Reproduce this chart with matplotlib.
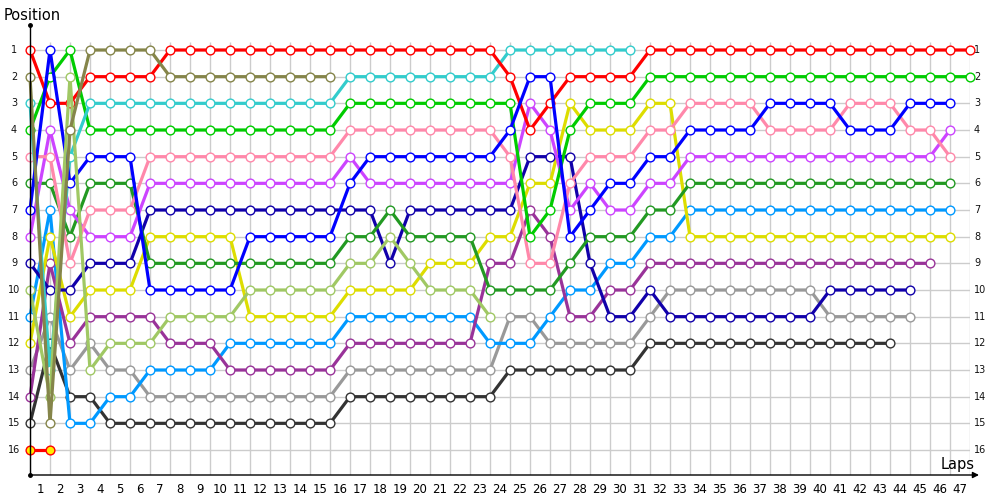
import matplotlib
matplotlib.use("Agg")
import matplotlib.pyplot as plt

# lap chart: position of each car at the end of each lap (lap 0 = grid)
laps = list(range(0, 48))
lap_labels = list(range(1, 48))
positions = list(range(1, 17))

pos_red = [1, 3, 3, 2, 2, 2, 2,
           1, 1, 1, 1, 1, 1, 1, 1, 1, 1, 1, 1, 1, 1, 1, 1, 1,
           2, 4, 3, 2, 2, 2, 2,
           1, 1, 1, 1, 1, 1, 1, 1, 1, 1, 1, 1, 1, 1, 1, 1, 1]
pos_olive = [2, 15, 4, 1, 1, 1, 1, 2, 2, 2, 2, 2, 2, 2, 2, 2]
pos_cyan = [3, 13, 5,
            3, 3, 3, 3, 3, 3, 3, 3, 3, 3, 3, 3, 3,
            2, 2, 2, 2, 2, 2, 2, 2,
            1, 1, 1, 1, 1, 1, 1]
pos_green = [4, 2, 1,
             4, 4, 4, 4, 4, 4, 4, 4, 4, 4, 4, 4, 4,
             3, 3, 3, 3, 3, 3, 3, 3, 3,
             8, 7, 4, 3, 3, 3,
             2, 2, 2, 2, 2, 2, 2, 2, 2, 2, 2, 2, 2, 2, 2, 2, 2]
pos_pink = [5, 5, 9, 7, 7, 7,
            5, 5, 5, 5, 5, 5, 5, 5, 5, 5,
            4, 4, 4, 4, 4, 4, 4, 4,
            5, 9, 9, 6, 5, 5, 5, 4, 4,
            3, 3, 3, 3, 4, 4, 4, 4, 3, 3, 3, 4, 4, 5]
pos_blue = [7, 1, 6, 5, 5, 5,
            10, 10, 10, 10, 10,
            8, 8, 8, 8, 8, 6,
            5, 5, 5, 5, 5, 5, 5,
            4, 2, 2, 8, 7, 6, 6, 5, 5,
            4, 4, 4, 4, 3, 3, 3, 3, 4, 4, 4, 3, 3, 3]
pos_violet = [8, 4, 7, 8, 8, 8,
              6, 6, 6, 6, 6, 6, 6, 6, 6, 6, 5,
              6, 6, 6, 6, 6, 6, 6, 6,
              3, 4, 7, 6, 7, 7, 6, 6,
              5, 5, 5, 5, 5, 5, 5, 5, 5, 5, 5, 5, 5, 4]
pos_dkgreen = [6, 6, 8, 6, 6, 6,
               9, 9, 9, 9, 9, 9, 9, 9, 9, 9,
               8, 8, 7, 8, 8, 8, 8,
               10, 10, 10, 10, 9, 8, 8, 8, 7, 7,
               6, 6, 6, 6, 6, 6, 6, 6, 6, 6, 6, 6, 6, 6]
pos_navy = [9, 10, 10, 9, 9, 9,
            7, 7, 7, 7, 7, 7, 7, 7, 7, 7, 7, 7,
            9, 7, 7, 7, 7, 7, 7,
            5, 5, 5, 9, 11, 11, 10,
            11, 11, 11, 11, 11, 11, 11, 11,
            10, 10, 10, 10, 10]
pos_yellow = [12, 8, 11, 10, 10, 10,
              8, 8, 8, 8, 8,
              11, 11, 11, 11, 11,
              10, 10, 10, 10, 9, 9, 9,
              8, 8, 6, 6, 3, 4, 4, 4, 3, 3,
              8, 8, 8, 8, 8, 8, 8, 8, 8, 8, 8, 8, 8, 8]
pos_ltgreen = [10, 14, 2, 13, 12, 12, 12,
               11, 11, 11, 11,
               10, 10, 10, 10, 10,
               9, 9, 8, 9, 10, 10, 10, 11]
pos_purple = [14, 9, 12, 11, 11, 11, 11, 12, 12, 12,
              13, 13, 13, 13, 13, 13,
              12, 12, 12, 12, 12, 12, 12,
              9, 9, 7, 8, 11, 11, 10, 10,
              9, 9, 9, 9, 9, 9, 9, 9, 9, 9, 9, 9, 9, 9, 9]
pos_sky = [11, 7, 15, 15, 14, 14, 13, 13, 13, 13,
           12, 12, 12, 12, 12, 12,
           11, 11, 11, 11, 11, 11, 11,
           12, 12, 12, 11, 10, 10, 9, 9, 8, 8,
           7, 7, 7, 7, 7, 7, 7, 7, 7, 7, 7, 7, 7, 7]
pos_gray = [13, 11, 13, 12, 13, 13,
            14, 14, 14, 14, 14, 14, 14, 14, 14, 14,
            13, 13, 13, 13, 13, 13, 13, 13,
            11, 11, 12, 12, 12, 12, 12, 11,
            10, 10, 10, 10, 10, 10, 10, 10,
            11, 11, 11, 11, 11]
pos_dkgray = [15, 12, 14, 14,
              15, 15, 15, 15, 15, 15, 15, 15, 15, 15, 15, 15,
              14, 14, 14, 14, 14, 14, 14, 14,
              13, 13, 13, 13, 13, 13, 13,
              12, 12, 12, 12, 12, 12, 12, 12, 12, 12, 12, 12, 12]
pos_last = [16, 16]

series = [
    (pos_dkgray, "#333333", "white"),
    (pos_gray, "#999999", "white"),
    (pos_sky, "#0099ff", "white"),
    (pos_purple, "#993399", "white"),
    (pos_yellow, "#dddd00", "white"),
    (pos_navy, "#1100aa", "white"),
    (pos_dkgreen, "#229922", "white"),
    (pos_violet, "#cc44ff", "white"),
    (pos_pink, "#ff88aa", "white"),
    (pos_green, "#00cc00", "white"),
    (pos_cyan, "#33cccc", "white"),
    (pos_red, "#ff0000", "white"),
    (pos_blue, "#0000ff", "white"),
    (pos_ltgreen, "#a0c864", "white"),
    (pos_olive, "#85854a", "white"),
    (pos_last, "#ff0000", "#ffee00"),
]

fig = plt.figure(figsize=(10, 5), dpi=100)
# axes: x from 30px to 970px (laps 0..47), y from 25px to 475px
ybot = 16 + 25 / (400 / 15)
ytop = 1 - 25 / (400 / 15)
ax = fig.add_axes([0.03, 0.05, 0.94, 0.90])
ax.set_xlim(0, 47)
ax.set_ylim(ybot, ytop)
for s in ax.spines.values():
    s.set_visible(False)

grid_c = "#cccccc"
ax.vlines(laps, 1 - 8 / (400 / 15), ybot, color=grid_c, lw=1, zorder=0)
ax.hlines(positions, 0, 47, color=grid_c, lw=1, zorder=0)

for vals, col, face in series:
    x = laps[:len(vals)]
    ax.plot(x, vals, color=col, lw=2.3, marker="o", ms=6.3, mfc=face,
            mec=col, mew=1.0, solid_joinstyle="miter", clip_on=False,
            zorder=2)

# axis lines
ax.plot([0, 0], [ybot, ytop], color="black", lw=1, clip_on=False, zorder=3)
ax.plot([0], [ytop], "o", color="black", ms=2.5, clip_on=False, zorder=3)
ax.plot([0], [ybot], "o", color="black", ms=2.5, clip_on=False, zorder=3)
ax.annotate("", xy=(47.45, ybot), xytext=(0, ybot),
            arrowprops=dict(arrowstyle="-|>", color="black", lw=1,
                            mutation_scale=9, shrinkA=0, shrinkB=0),
            annotation_clip=False, zorder=3)

ax.set_xticks([k - 0.5 for k in lap_labels])
ax.set_xticklabels([str(k) for k in lap_labels], fontsize=8.5)
ax.tick_params(axis="x", length=0, pad=6)
ax.set_yticks([])

for p in positions:
    ax.text(-0.8, p, str(p), ha="center", va="center", fontsize=7,
            color="#111111", clip_on=False)
    ax.text(47.2, p, str(p), ha="left", va="center", fontsize=7,
            color="#111111", clip_on=False)

fig.text(0.004, 0.97, "Position", fontsize=10.5, ha="left", va="center")
fig.text(0.975, 0.07, "Laps", fontsize=10.5, ha="right", va="center")

fig.savefig("out.png", dpi=100)
